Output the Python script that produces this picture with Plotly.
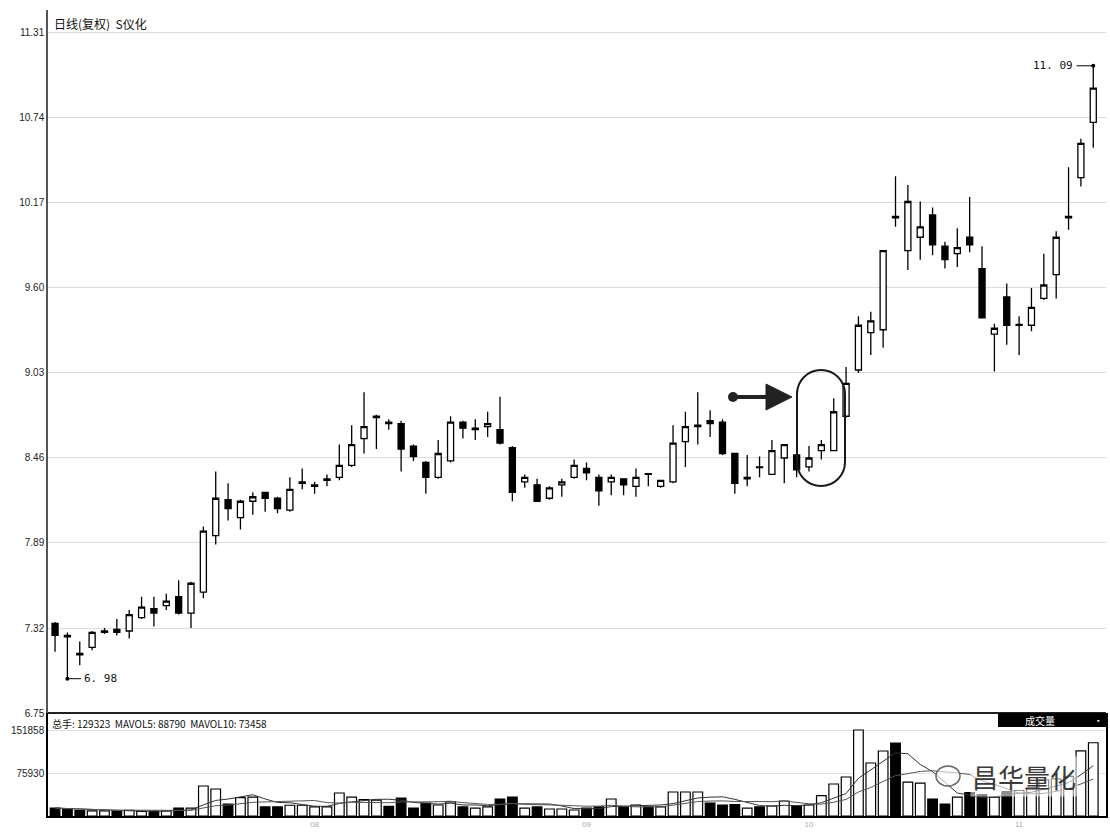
import plotly.graph_objects as go
import pandas as pd

# ---------------- data ----------------
opens = [7.35, 7.27, 7.15, 7.19, 7.29, 7.31, 7.30, 7.39, 7.45, 7.47,
         7.53, 7.42, 7.56, 7.94, 8.18, 8.06, 8.17, 8.23, 8.19, 8.11,
         8.29, 8.27, 8.31, 8.33, 8.41, 8.59, 8.73, 8.70, 8.69, 8.54,
         8.43, 8.33, 8.44, 8.70, 8.65, 8.67, 8.65, 8.53, 8.30, 8.28,
         8.19, 8.28, 8.33, 8.39, 8.33, 8.30, 8.32, 8.27, 8.355, 8.27,
         8.30, 8.57, 8.67, 8.71, 8.70, 8.49, 8.32, 8.40, 8.35, 8.46,
         8.48, 8.40, 8.51, 8.51, 8.74, 9.05, 9.30, 9.32, 10.08, 9.85,
         9.94, 10.09, 9.88, 9.83, 9.94, 9.73, 9.29, 9.54, 9.35, 9.35,
         9.53, 9.69, 10.07, 10.34, 10.71]
highs = [7.36, 7.29, 7.23, 7.30, 7.32, 7.38, 7.44, 7.53, 7.53, 7.55,
         7.64, 7.63, 8.00, 8.37, 8.29, 8.18, 8.23, 8.23, 8.20, 8.33,
         8.39, 8.30, 8.35, 8.55, 8.68, 8.90, 8.75, 8.72, 8.71, 8.55,
         8.44, 8.58, 8.74, 8.71, 8.72, 8.77, 8.87, 8.54, 8.35, 8.32,
         8.27, 8.32, 8.45, 8.43, 8.35, 8.35, 8.32, 8.39, 8.36, 8.31,
         8.68, 8.77, 8.90, 8.78, 8.72, 8.49, 8.48, 8.47, 8.58, 8.55,
         8.48, 8.54, 8.58, 8.86, 9.07, 9.41, 9.44, 9.85, 10.35, 10.29,
         10.18, 10.14, 9.91, 10.00, 10.21, 9.88, 9.36, 9.63, 9.41, 9.60,
         9.83, 9.98, 10.41, 10.60, 11.09]
lows = [7.16, 6.98, 7.07, 7.17, 7.28, 7.27, 7.25, 7.38, 7.33, 7.44,
        7.41, 7.32, 7.52, 7.88, 8.04, 7.98, 8.08, 8.10, 8.09, 8.10,
        8.25, 8.22, 8.27, 8.31, 8.40, 8.49, 8.52, 8.65, 8.37, 8.44,
        8.22, 8.32, 8.43, 8.59, 8.58, 8.60, 8.55, 8.17, 8.26, 8.17,
        8.18, 8.20, 8.32, 8.31, 8.14, 8.21, 8.21, 8.20, 8.27, 8.26,
        8.29, 8.40, 8.55, 8.60, 8.48, 8.22, 8.27, 8.33, 8.35, 8.29,
        8.33, 8.37, 8.45, 8.51, 8.73, 9.03, 9.15, 9.20, 10.01, 9.72,
        9.79, 9.82, 9.73, 9.74, 9.84, 9.40, 9.04, 9.22, 9.15, 9.31,
        9.52, 9.53, 9.99, 10.28, 10.54]
closes = [7.27, 7.26, 7.14, 7.29, 7.30, 7.29, 7.41, 7.46, 7.42, 7.50,
          7.42, 7.62, 7.97, 8.19, 8.12, 8.17, 8.20, 8.19, 8.12, 8.25,
          8.30, 8.28, 8.32, 8.41, 8.55, 8.67, 8.74, 8.69, 8.52, 8.47,
          8.33, 8.49, 8.70, 8.66, 8.66, 8.69, 8.56, 8.23, 8.33, 8.17,
          8.26, 8.30, 8.41, 8.36, 8.24, 8.33, 8.28, 8.33, 8.35, 8.31,
          8.56, 8.67, 8.68, 8.69, 8.49, 8.29, 8.33, 8.395, 8.51, 8.55,
          8.38, 8.46, 8.55, 8.77, 8.96, 9.35, 9.38, 9.85, 10.07, 10.18,
          10.01, 9.89, 9.79, 9.87, 9.89, 9.40, 9.33, 9.35, 9.355, 9.47,
          9.62, 9.94, 10.08, 10.57, 10.94]
volumes = [14000, 12000, 10000, 9000, 9000, 8000, 10000, 8000, 8000, 9000,
           14000, 14000, 53000, 47700, 21000, 32500, 33500, 16000, 16000, 19000,
           19000, 16000, 16000, 40600, 33500, 29000, 28000, 17000, 31800, 14000,
           23000, 19400, 25000, 16000, 14000, 16000, 30000, 33500, 14000, 16000,
           12400, 12400, 10600, 14000, 16000, 30000, 16000, 19400, 16000, 16000,
           42400, 42400, 42400, 23000, 19400, 20000, 14000, 16000, 17700, 26500,
           17700, 19400, 36000, 56500, 68900, 151858, 93600, 114800, 128900, 60000,
           58000, 30000, 21200, 33500, 41200, 38000, 33500, 43000, 45000, 50000,
           64000, 65627, 70000, 115000, 129323]

price_ticks = [6.75, 7.32, 7.89, 8.46, 9.03, 9.60, 10.17, 10.74, 11.31]
price_tick_text = ["6.75", "7.32", "7.89", "8.46", "9.03", "9.60", "10.17", "10.74", "11.31"]
vol_ticks = [75930, 151858]
vol_tick_text = ["75930", "151858"]
month_pos = [21, 43, 61, 78]
month_text = ["08", "09", "10", "11"]
header_text = "日线(复权)  S仪化"
vol_header = "总手: 129323  MAVOL5: 88790  MAVOL10: 73458"

# ---------------- geometry ----------------
W, H = 1110, 834
ML, MR, MT, MB = 48, 4, 10, 18
x_range = [-0.57, 85.03]
y_range = [6.75, 11.464]
v_range = [0, 181900]
split_px = 713                      # pixel row of panel separator
plot_h = H - MT - MB
split_frac = (H - MB - split_px) / plot_h
plot_w = W - ML - MR

def px_to_x(px):
    return x_range[0] + (px - ML) / plot_w * (x_range[1] - x_range[0])

def py_to_y(py):
    return y_range[1] - (py - MT) / (split_px - MT) * (y_range[1] - y_range[0])

def py_to_v(py):
    return (H - MB - py) / (H - MB - split_px) * v_range[1]

idx = list(range(len(opens)))
vol_colors = ["white" if c > o else "black" for o, c in zip(opens, closes)]
s = pd.Series(volumes, dtype=float)
ma5 = s.rolling(5, min_periods=1).mean()
ma10 = s.rolling(10, min_periods=1).mean()

fig = go.Figure()
fig.add_trace(go.Candlestick(
    x=idx, open=opens, high=highs, low=lows, close=closes,
    increasing=dict(line=dict(color="black", width=1.3), fillcolor="white"),
    decreasing=dict(line=dict(color="black", width=1.3), fillcolor="black"),
    whiskerwidth=0, xaxis="x", yaxis="y", hoverinfo="skip"))
fig.add_trace(go.Bar(
    x=idx, y=volumes, marker=dict(color=vol_colors, line=dict(color="black", width=1.2)),
    xaxis="x2", yaxis="y2", hoverinfo="skip"))
fig.add_trace(go.Scatter(x=idx, y=ma5, mode="lines", line=dict(color="#333", width=1),
                         xaxis="x2", yaxis="y2", hoverinfo="skip"))
fig.add_trace(go.Scatter(x=idx, y=ma10, mode="lines", line=dict(color="#555", width=1),
                         xaxis="x2", yaxis="y2", hoverinfo="skip"))

tickfont = dict(family="Liberation Sans, Arial", size=10, color="#222")

fig.update_layout(
    width=W, height=H, margin=dict(l=ML, r=MR, t=MT, b=MB, autoexpand=False),
    paper_bgcolor="white", plot_bgcolor="white", showlegend=False,
    bargap=0.22,
    xaxis=dict(domain=[0, 1], range=x_range, anchor="y", showticklabels=False,
               showgrid=False, zeroline=False, rangeslider=dict(visible=False),
               fixedrange=True, automargin=False),
    xaxis2=dict(domain=[0, 1], range=x_range, anchor="y2", matches="x",
                tickvals=month_pos, ticktext=month_text, ticks="",
                tickfont=dict(family="Liberation Sans", size=8, color="#aaa"),
                showgrid=False, zeroline=False, showline=True, linecolor="black",
                linewidth=1.5, automargin=False),
    yaxis=dict(domain=[split_frac, 1], range=y_range, tickvals=price_ticks,
               ticktext=price_tick_text, tickfont=tickfont, ticks="",
               showgrid=True, gridcolor="#dcdcdc", gridwidth=1, zeroline=False,
               showline=True, linecolor="#555", linewidth=1.5, automargin=False),
    yaxis2=dict(domain=[0, split_frac], range=v_range, tickvals=vol_ticks,
                ticktext=vol_tick_text, tickfont=tickfont, ticks="",
                showgrid=True, gridcolor="#e2e2e2", gridwidth=1, zeroline=False,
                showline=True, mirror=True, linecolor="black", linewidth=1.5,
                automargin=False),
)

shapes = []
# panel separator
shapes.append(dict(type="line", xref="paper", yref="paper", x0=0, x1=1,
                   y0=split_frac, y1=split_frac, line=dict(color="#222", width=2)))
# 成交量 box
box_top = split_frac
box_bot = (H - MB - 727) / plot_h
shapes.append(dict(type="rect", xref="paper", yref="paper",
                   x0=(998 - ML) / plot_w, x1=1, y0=box_bot, y1=box_top,
                   fillcolor="black", line=dict(width=0)))

# min price leader
i_min = lows.index(min(lows))
xm, ym = i_min, lows[i_min]
shapes.append(dict(type="line", xref="x", yref="y", x0=xm, x1=xm + 1.1, y0=ym, y1=ym,
                   line=dict(color="black", width=1)))
# max price leader
i_max = highs.index(max(highs))
xM, yM = i_max, highs[i_max]
shapes.append(dict(type="line", xref="x", yref="y", x0=xM - 1.35, x1=xM, y0=yM, y1=yM,
                   line=dict(color="black", width=1)))
for (cx, cy) in [(xm, ym), (xM, yM)]:
    shapes.append(dict(type="circle", xref="x", yref="y", xsizemode="pixel", ysizemode="pixel",
                       xanchor=cx, yanchor=cy, x0=-2, x1=2, y0=-2, y1=2,
                       fillcolor="black", line=dict(width=0)))

# drawn arrow (dot + shaft + triangle head)
ay_px = 397
shapes.append(dict(type="line", xref="x", yref="y", x0=px_to_x(733), x1=px_to_x(770),
                   y0=py_to_y(ay_px), y1=py_to_y(ay_px), line=dict(color="#222", width=4)))
shapes.append(dict(type="circle", xref="x", yref="y", xsizemode="pixel", ysizemode="pixel",
                   xanchor=px_to_x(733), yanchor=py_to_y(ay_px), x0=-5, x1=5, y0=-5, y1=5,
                   fillcolor="#222", line=dict(width=0)))
tri = "M {:.4f},{:.4f} L {:.4f},{:.4f} L {:.4f},{:.4f} Z".format(
    px_to_x(766), py_to_y(ay_px - 13), px_to_x(792), py_to_y(ay_px),
    px_to_x(766), py_to_y(ay_px + 13))
shapes.append(dict(type="path", xref="x", yref="y", path=tri, fillcolor="#222",
                   line=dict(color="#222", width=1)))

# drawn stadium outline
xl, xr, yt, yb = 797, 845, 370, 486
r = (xr - xl) / 2
k = 0.5523 * r
xc = (xl + xr) / 2
pts = [
    ("M", [(xl, yt + r)]),
    ("C", [(xl, yt + r - k), (xc - k, yt), (xc, yt)]),
    ("C", [(xc + k, yt), (xr, yt + r - k), (xr, yt + r)]),
    ("L", [(xr, yb - r)]),
    ("C", [(xr, yb - r + k), (xc + k, yb), (xc, yb)]),
    ("C", [(xc - k, yb), (xl, yb - r + k), (xl, yb - r)]),
]
path = ""
for cmd, ps in pts:
    path += cmd + " " + " ".join("{:.4f},{:.4f}".format(px_to_x(a), py_to_y(b)) for a, b in ps) + " "
path += "Z"
shapes.append(dict(type="path", xref="x", yref="y", path=path,
                   line=dict(color="#1a1a1a", width=2), fillcolor="rgba(0,0,0,0)"))

# watermark logo ring
shapes.append(dict(type="circle", xref="x2", yref="y2", xsizemode="pixel", ysizemode="pixel",
                   xanchor=px_to_x(948), yanchor=py_to_v(776), x0=-12, x1=12, y0=-10, y1=10,
                   fillcolor="rgba(255,255,255,0.6)", line=dict(color="#666", width=1.5)))

fig.update_layout(shapes=shapes)

ann = []
ann.append(dict(xref="paper", yref="paper", x=0.004, y=1, xanchor="left", yanchor="top",
                yshift=-3, text=header_text, showarrow=False,
                font=dict(family="Noto Sans CJK SC", size=12, color="#111")))
ann.append(dict(xref="paper", yref="paper", x=0.002, y=split_frac, xanchor="left", yanchor="top",
                yshift=-1, text=vol_header, showarrow=False,
                font=dict(family="Liberation Sans Narrow, Noto Sans CJK SC", size=10, color="#111")))
ann.append(dict(xref="paper", yref="paper", x=(1040 - ML) / plot_w, y=(box_top + box_bot) / 2,
                xanchor="center", yanchor="middle", text="成交量", showarrow=False,
                font=dict(family="Noto Sans CJK SC", size=10, color="white")))
ann.append(dict(xref="paper", yref="paper", x=(1098 - ML) / plot_w, y=(box_top + box_bot) / 2,
                xanchor="center", yanchor="middle", text="▪", showarrow=False,
                font=dict(size=7, color="white")))
ann.append(dict(xref="x", yref="y", x=xm + 1.2, y=ym, xanchor="left", yanchor="middle",
                text="{:.2f}".format(ym).replace(".", ". "), showarrow=False,
                font=dict(family="DejaVu Sans Mono", size=11, color="#111")))
ann.append(dict(xref="x", yref="y", x=xM - 1.45, y=yM, xanchor="right", yanchor="middle",
                text="{:.2f}".format(yM).replace(".", ". "), showarrow=False,
                font=dict(family="DejaVu Sans Mono", size=11, color="#111")))
ann.append(dict(xref="x2", yref="paper", x=-1.2, y=0, yanchor="top", yshift=-2,
                text="07", showarrow=False,
                font=dict(family="Liberation Sans", size=8, color="#aaa")))
ann.append(dict(xref="x2", yref="y2", x=px_to_x(1024), y=py_to_v(776), xanchor="center",
                yanchor="middle", text="昌华量化", showarrow=False,
                bgcolor="rgba(255,255,255,0.55)",
                font=dict(family="Noto Sans CJK SC", size=26, color="#3a3a3a")))
fig.update_layout(annotations=ann)

fig.write_html("out.html", config={"displayModeBar": False},
               post_script="document.body.style.margin='0';document.body.style.padding='0';"
                           "document.body.style.overflow='hidden';")
